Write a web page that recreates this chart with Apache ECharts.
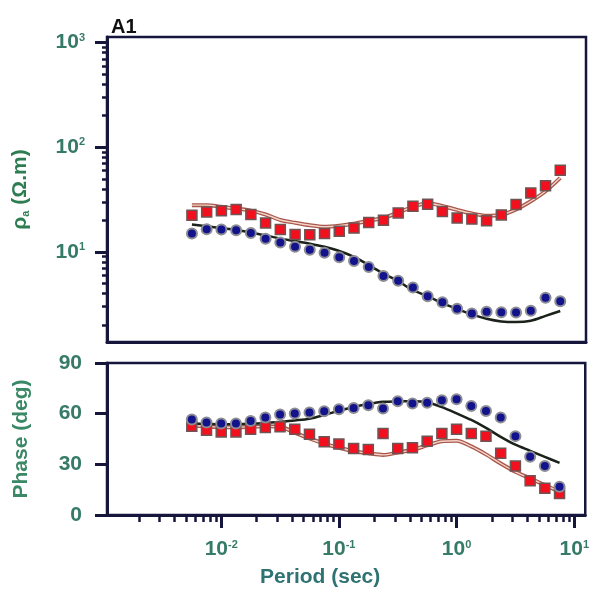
<!DOCTYPE html>
<html><head><meta charset="utf-8">
<script src="https://cdn.jsdelivr.net/npm/echarts@6/dist/echarts.min.js"></script>
<style>html,body{margin:0;padding:0;background:#fff}#c{width:592px;height:602px}</style>
</head><body><div id="c"></div>
<script>
// Periods (sec): evenly spaced on log axis, 8 per decade
const periods = [0.005623, 0.0075, 0.01, 0.01334, 0.01778, 0.02371, 0.03162, 0.04217, 0.05623, 0.075,
  0.1, 0.1334, 0.1778, 0.2371, 0.3162, 0.4217, 0.5623, 0.75, 1, 1.334, 1.778, 2.371, 3.162, 4.217, 5.623, 7.499];

// Apparent resistivity (ohm.m)
const rhoRedObs = [22.4, 24.1, 24.7, 25.4, 22.8, 18.9, 16.4, 14.7, 14.6, 15.0, 15.8, 16.9, 19.1, 20.1, 23.6, 27.3,
  28.6, 24.3, 21.1, 20.6, 19.9, 22.6, 28.4, 36.6, 43.0, 60.3];
const rhoBlueObs = [15.0, 16.5, 16.4, 16.1, 15.2, 13.4, 12.3, 11.2, 10.5, 9.8, 8.9, 8.2, 7.2, 5.9, 5.3, 4.57,
  3.78, 3.3, 2.86, 2.58, 2.69, 2.66, 2.64, 2.74, 3.65, 3.39];
const rhoRedModel = [28.0, 28.0, 27.0, 26.0, 24.8, 22.8, 20.2, 19.0, 18.0, 17.4, 17.8, 18.6, 19.9, 21.1, 23.8, 27.0,
  29.2, 27.5, 25.2, 23.3, 22.2, 22.6, 25.5, 30.5, 38.0, 51.0];
const rhoBlackModel = [18.3, 17.6, 16.9, 16.2, 15.3, 14.4, 13.4, 12.7, 12.0, 11.2, 10.2, 8.95, 7.5, 6.2, 5.26, 4.31,
  3.78, 3.25, 2.86, 2.53, 2.3, 2.17, 2.14, 2.2, 2.45, 2.73];

// Phase (deg)
const phaseBlueObs = [56.5, 54.8, 54.2, 54.2, 55.7, 57.7, 59.5, 60.1, 60.7, 61.5, 62.6, 63.4, 65.0, 63.0, 67.4, 66.0,
  66.4, 68.0, 68.6, 64.6, 61.6, 57.7, 46.7, 34.5, 29.0, 16.7];
const phaseRedObs = [52.5, 50.2, 49.2, 49.2, 50.8, 51.8, 52.2, 50.7, 47.8, 43.3, 42.0, 39.4, 38.8, 48.3, 39.4, 39.8,
  43.7, 48.3, 50.8, 48.3, 46.7, 36.5, 29.0, 20.3, 15.8, 12.8];
const phaseBlackModel = [54.2, 54.0, 53.8, 53.8, 54.0, 54.5, 55.2, 56.0, 57.0, 59.2, 61.7, 63.9, 65.7, 67.0, 67.3, 67.4,
  66.8, 63.9, 60.2, 56.3, 51.6, 46.3, 41.6, 38.0, 34.4, 30.9];
const phaseRedModel = [53.0, 52.5, 52.0, 52.0, 52.3, 52.5, 52.2, 48.8, 45.3, 42.3, 39.8, 37.8, 36.6, 35.6, 37.0, 38.6,
  41.2, 43.7, 44.0, 40.6, 35.9, 30.5, 25.6, 21.7, 17.7, 13.8];

// Axis ticks
const periodMajorTicks = [0.01, 0.1, 1, 10];
const periodMinorTicks = [0.002, 0.003, 0.004, 0.005, 0.006, 0.007, 0.008, 0.009,
  0.02, 0.03, 0.04, 0.05, 0.06, 0.07, 0.08, 0.09,
  0.2, 0.3, 0.4, 0.5, 0.6, 0.7, 0.8, 0.9,
  2, 3, 4, 5, 6, 7, 8, 9];
const rhoMajorTicks = [10, 100, 1000];
const rhoMinorTicks = [2, 3, 4, 5, 6, 7, 8, 9, 20, 30, 40, 50, 60, 70, 80, 90, 200, 300, 400, 500, 600, 700, 800, 900];
const phaseTicks = [0, 30, 60, 90];

const periodMin = 0.00107, periodMax = 12.4;
const rhoMin = 1.38, rhoMax = 1130;

const pairs = arr => periods.map((p, i) => [p, arr[i]]);

const AXIS = '#16163c';
const LABEL = '#367a68';
const FONT = 'Liberation Sans, Arial, sans-serif';

function powLabel(v) {
  const e = Math.round(Math.log10(v));
  return '{b|10}{s|' + e + '}';
}
const powRich = {
  b: { fontSize: 21, fontWeight: 'bold', color: LABEL, fontFamily: FONT, verticalAlign: 'bottom' },
  s: { fontSize: 11, fontWeight: 'bold', color: LABEL, fontFamily: FONT, verticalAlign: 'top' }
};

const chart = echarts.init(document.getElementById('c'), null, { renderer: 'canvas' });

const redSquare = { symbol: 'rect', symbolSize: 10, itemStyle: { color: '#f2101e', borderColor: '#6e5454', borderWidth: 1.5, opacity: 1 } };
const blueDot = { symbol: 'circle', symbolSize: 10, itemStyle: { color: '#12128c', borderColor: '#8c8c94', borderWidth: 2, opacity: 1 } };

function modelPair(xi, yi, arr, kind) {
  if (kind === 'red') {
    return [
      { type: 'line', xAxisIndex: xi, yAxisIndex: yi, data: pairs(arr), smooth: 0.3, showSymbol: false,
        lineStyle: { color: '#a8584a', width: 4 }, z: 2 },
      { type: 'line', xAxisIndex: xi, yAxisIndex: yi, data: pairs(arr), smooth: 0.3, showSymbol: false,
        lineStyle: { color: '#f6d2c8', width: 1.4 }, z: 3 }
    ];
  }
  return [{ type: 'line', xAxisIndex: xi, yAxisIndex: yi, data: pairs(arr), smooth: 0.3, showSymbol: false,
    lineStyle: { color: '#1a221a', width: 2.5 }, z: 2 }];
}

const option = {
  animation: false,
  backgroundColor: '#ffffff',
  title: {
    text: 'A1', left: 106, top: 12,
    textStyle: { fontSize: 20, fontWeight: 'bold', color: '#111', fontFamily: FONT }
  },
  grid: [
    { left: 107, right: 6, top: 37, height: 305, show: true, borderColor: AXIS, borderWidth: 2.5, backgroundColor: 'transparent' },
    { left: 107, right: 6, top: 363, height: 152, show: true, borderColor: AXIS, borderWidth: 2.5, backgroundColor: 'transparent' }
  ],
  xAxis: [
    { type: 'log', gridIndex: 0, position: 'bottom', min: periodMin, max: periodMax, logBase: 10,
      axisLine: { show: true, onZero: false, lineStyle: { color: AXIS, width: 3 } },
      axisTick: { show: false }, axisLabel: { show: false }, splitLine: { show: false } },
    { type: 'log', gridIndex: 1, position: 'bottom', min: periodMin, max: periodMax, logBase: 10,
      axisLine: { show: true, onZero: false, lineStyle: { color: AXIS, width: 3 } },
      axisTick: { show: true, customValues: periodMajorTicks, length: 13, lineStyle: { color: AXIS, width: 3 } },
      axisLabel: { show: true, customValues: periodMajorTicks, formatter: powLabel, rich: powRich, margin: 24 },
      splitLine: { show: false },
      name: 'Period (sec)', nameLocation: 'middle', nameGap: 52,
      nameTextStyle: { fontSize: 21, fontWeight: 'bold', color: '#2f7272', fontFamily: FONT, padding: [0, 52, 0, 0] } },
    { type: 'log', gridIndex: 1, position: 'bottom', min: periodMin, max: periodMax, logBase: 10,
      axisLine: { show: false, onZero: false },
      axisTick: { show: true, customValues: periodMinorTicks, length: 7, lineStyle: { color: AXIS, width: 2.5 } },
      axisLabel: { show: false }, splitLine: { show: false } }
  ],
  yAxis: [
    { type: 'log', gridIndex: 0, position: 'left', min: rhoMin, max: rhoMax, logBase: 10,
      axisLine: { show: true, onZero: false, lineStyle: { color: AXIS, width: 3 } },
      axisTick: { show: true, customValues: rhoMajorTicks, length: 12, lineStyle: { color: AXIS, width: 3 } },
      axisLabel: { show: true, customValues: rhoMajorTicks, formatter: powLabel, rich: powRich, margin: 22 },
      splitLine: { show: false },
      name: '{g|ρ}{a|a}{g| (Ω.m)}', nameLocation: 'middle', nameGap: 76,
      nameTextStyle: { rich: {
        g: { fontSize: 21, fontWeight: 'bold', color: '#2e7d52', fontFamily: FONT },
        a: { fontSize: 11, fontWeight: 'bold', color: '#2e7d52', fontFamily: FONT, verticalAlign: 'bottom' } } } },
    { type: 'log', gridIndex: 0, position: 'left', min: rhoMin, max: rhoMax, logBase: 10,
      axisLine: { show: false, onZero: false },
      axisTick: { show: true, customValues: rhoMinorTicks, length: 5, lineStyle: { color: AXIS, width: 2.5 } },
      axisLabel: { show: false }, splitLine: { show: false } },
    { type: 'value', gridIndex: 1, position: 'left', min: 0, max: 90, interval: 30,
      axisLine: { show: true, onZero: false, lineStyle: { color: AXIS, width: 3 } },
      axisTick: { show: true, length: 12, lineStyle: { color: AXIS, width: 3 } },
      axisLabel: { show: true, margin: 25, fontSize: 21, fontWeight: 'bold', color: LABEL, fontFamily: FONT },
      splitLine: { show: false },
      name: 'Phase (deg)', nameLocation: 'middle', nameGap: 75,
      nameTextStyle: { fontSize: 21, fontWeight: 'bold', color: '#3a8866', fontFamily: FONT } }
  ],
  series: [
    ...modelPair(0, 0, rhoRedModel, 'red'),
    ...modelPair(0, 0, rhoBlackModel, 'black'),
    Object.assign({ type: 'scatter', xAxisIndex: 0, yAxisIndex: 0, data: pairs(rhoRedObs), z: 4 }, redSquare),
    Object.assign({ type: 'scatter', xAxisIndex: 0, yAxisIndex: 0, data: pairs(rhoBlueObs), z: 4 }, blueDot),
    ...modelPair(1, 2, phaseRedModel, 'red'),
    ...modelPair(1, 2, phaseBlackModel, 'black'),
    Object.assign({ type: 'scatter', xAxisIndex: 1, yAxisIndex: 2, data: pairs(phaseRedObs), z: 4 }, redSquare),
    Object.assign({ type: 'scatter', xAxisIndex: 1, yAxisIndex: 2, data: pairs(phaseBlueObs), z: 4 }, blueDot)
  ]
};
chart.setOption(option);
</script>
</body></html>
